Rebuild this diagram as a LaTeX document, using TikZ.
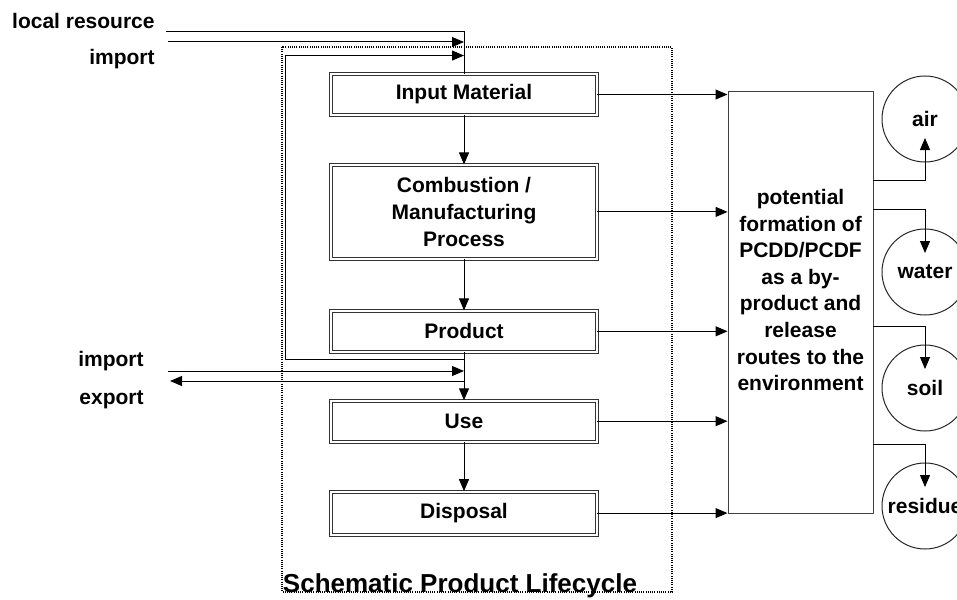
\documentclass[tikz,border=0pt]{standalone}
\usepackage{fontspec}
\setmainfont{Liberation Sans}
\usepackage{tikz}
\usetikzlibrary{arrows.meta}
\usetikzlibrary{positioning}

\newcommand{\boxfont}{\fontsize{10.5}{13.3}\selectfont\bfseries}
\newcommand{\titlefont}{\fontsize{13}{15}\selectfont\bfseries}

\tikzset{
	flowbox/.style={draw=black!80, double, double distance=1pt, line width=0.45pt,
		minimum width=133pt, minimum height=20.5pt, inner sep=0pt, align=center, font=\boxfont},
	circbox/.style={draw=black!85, line width=0.5pt, circle, minimum size=43pt, inner sep=0pt, font=\boxfont},
	lbl/.style={font=\boxfont, inner sep=0pt},
	conn/.style={line width=0.5pt},
	arr/.style={conn, -{Triangle[length=6pt,width=5pt]}},
}

\begin{document}
\begin{tikzpicture}[x=0.5pt,y=-0.5pt]
		\useasboundingbox (0,0) rectangle (957,599);
		
		% lifecycle frame
		\draw[line width=0.9pt, dash pattern=on 0.55pt off 0.55pt] (282,47) rectangle (672,592);
		\node[font=\titlefont, anchor=base, inner sep=0pt] (title) at (460,592) {Schematic Product Lifecycle};
		
		% lifecycle steps
		\node[flowbox] (input) at (464,94.5) {Input Material};
		\node[flowbox, minimum height=47pt, below=24.5pt of input] (combust) {Combustion /\\Manufacturing\\Process};
		\node[flowbox, below=25.5pt of combust] (product) {Product};
		\node[flowbox, below=24pt of product] (use) {Use};
		\node[flowbox, minimum height=21.5pt, below=24.5pt of use] (disposal) {Disposal};
		\foreach \a/\b in {input/combust, combust/product, product/use, use/disposal} {
			\draw[arr] (\a) -- (\b);
		}
		
		% release box
		\node[draw=black!75, line width=0.5pt, minimum width=72.5pt, minimum height=210.5pt, inner sep=0pt] (release) at (800.5,302.5) {};
		\node[lbl, align=center] (releasetext) at (800.5,290) {potential\\formation of\\PCDD/PCDF\\as a by-\\product and\\release\\routes to the\\environment};
		\foreach \b in {input,combust,product,use,disposal} {
			\draw[arr] (\b.east) -- (\b.east -| release.west);
		}
		
		% environment
		\node[circbox] (air) at (925,119) {air};
		\node[circbox] (water) at (925,272) {water};
		\node[circbox] (soil) at (925,388) {soil};
		\node[circbox] (residue) at (925,506) {residue};
		\coordinate (toair) at (873,180);
		\coordinate (towater) at (873,209);
		\coordinate (tosoil) at (873,326);
		\coordinate (toresidue) at (873,444);
		\draw[arr] (toair) -| ([yshift=-9.5pt]air.center);
		\draw[arr] (towater) -| ([yshift=9.5pt]water.center);
		\draw[arr] (tosoil) -| ([yshift=9.5pt]soil.center);
		\draw[arr] (toresidue) -| ([yshift=9.5pt]residue.center);
		
		% inputs and outputs
		\node[lbl, anchor=base east] (lbllocal) at (155,29) {local resource};
		\node[lbl, anchor=base east] (lblimport) at (155,65) {import};
		\node[lbl, anchor=base east] (lblimporttwo) at (144,366) {import};
		\node[lbl, anchor=base east] (lblexport) at (144,404) {export};
		\coordinate (localstart) at (166,32);
		\coordinate (importstart) at (168,42);
		\coordinate (importtwostart) at (168,371);
		\coordinate (exportend) at (170,381);
		\coordinate (loopcorner) at (285,359);
		\draw[conn] (localstart) -| (input.north);
		\draw[arr] (importstart) -- (importstart -| input.north);
		\draw[arr] (loopcorner -| product.south) -- (loopcorner) |- ([yshift=9pt]input.north);
		\draw[arr] (importtwostart) -- (importtwostart -| product.south);
		\draw[arr] (exportend -| product.south) -- (exportend);
	\end{tikzpicture}
\end{document}
